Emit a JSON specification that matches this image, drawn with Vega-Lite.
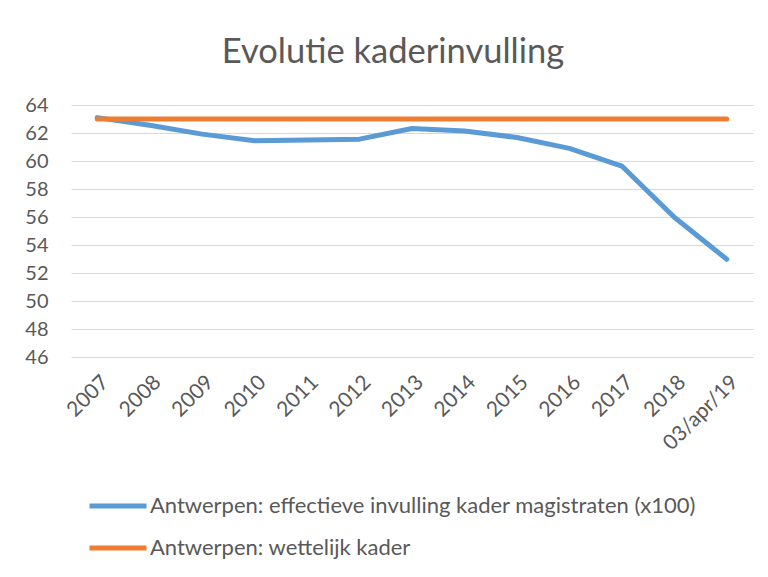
{
  "$schema": "https://vega.github.io/schema/vega-lite/v6.json",
  "autosize": {"type": "none"},
  "width": 682,
  "height": 252,
  "padding": {"left": 71, "top": 105, "right": 15, "bottom": 220},
  "background": "white",
  "title": {
    "text": "Evolutie kaderinvulling",
    "anchor": "middle",
    "frame": "group",
    "dx": -19,
    "offset": 25,
    "font": "Lato",
    "fontSize": 34.5,
    "fontWeight": "normal",
    "color": "#595959"
  },
  "data": {
    "values": [
      {"jaar": "2007", "reeks": "Antwerpen: effectieve invulling kader magistraten (x100)", "waarde": 63.1},
      {"jaar": "2008", "reeks": "Antwerpen: effectieve invulling kader magistraten (x100)", "waarde": 62.55},
      {"jaar": "2009", "reeks": "Antwerpen: effectieve invulling kader magistraten (x100)", "waarde": 61.92},
      {"jaar": "2010", "reeks": "Antwerpen: effectieve invulling kader magistraten (x100)", "waarde": 61.44},
      {"jaar": "2011", "reeks": "Antwerpen: effectieve invulling kader magistraten (x100)", "waarde": 61.5},
      {"jaar": "2012", "reeks": "Antwerpen: effectieve invulling kader magistraten (x100)", "waarde": 61.56},
      {"jaar": "2013", "reeks": "Antwerpen: effectieve invulling kader magistraten (x100)", "waarde": 62.32},
      {"jaar": "2014", "reeks": "Antwerpen: effectieve invulling kader magistraten (x100)", "waarde": 62.15},
      {"jaar": "2015", "reeks": "Antwerpen: effectieve invulling kader magistraten (x100)", "waarde": 61.68},
      {"jaar": "2016", "reeks": "Antwerpen: effectieve invulling kader magistraten (x100)", "waarde": 60.9},
      {"jaar": "2017", "reeks": "Antwerpen: effectieve invulling kader magistraten (x100)", "waarde": 59.64},
      {"jaar": "2018", "reeks": "Antwerpen: effectieve invulling kader magistraten (x100)", "waarde": 55.98},
      {"jaar": "03/apr/19", "reeks": "Antwerpen: effectieve invulling kader magistraten (x100)", "waarde": 52.98},
      {"jaar": "2007", "reeks": "Antwerpen: wettelijk kader", "waarde": 63},
      {"jaar": "2008", "reeks": "Antwerpen: wettelijk kader", "waarde": 63},
      {"jaar": "2009", "reeks": "Antwerpen: wettelijk kader", "waarde": 63},
      {"jaar": "2010", "reeks": "Antwerpen: wettelijk kader", "waarde": 63},
      {"jaar": "2011", "reeks": "Antwerpen: wettelijk kader", "waarde": 63},
      {"jaar": "2012", "reeks": "Antwerpen: wettelijk kader", "waarde": 63},
      {"jaar": "2013", "reeks": "Antwerpen: wettelijk kader", "waarde": 63},
      {"jaar": "2014", "reeks": "Antwerpen: wettelijk kader", "waarde": 63},
      {"jaar": "2015", "reeks": "Antwerpen: wettelijk kader", "waarde": 63},
      {"jaar": "2016", "reeks": "Antwerpen: wettelijk kader", "waarde": 63},
      {"jaar": "2017", "reeks": "Antwerpen: wettelijk kader", "waarde": 63},
      {"jaar": "2018", "reeks": "Antwerpen: wettelijk kader", "waarde": 63},
      {"jaar": "03/apr/19", "reeks": "Antwerpen: wettelijk kader", "waarde": 63}
    ]
  },
  "encoding": {
    "x": {
      "field": "jaar",
      "type": "ordinal",
      "sort": null,
      "scale": {"type": "point", "padding": 0.5},
      "axis": {
        "title": null,
        "labelAngle": -45,
        "labelFont": "Lato",
        "labelFontSize": 21,
        "labelColor": "#595959",
        "labelPadding": 14,
        "domain": false,
        "ticks": false,
        "grid": false
      }
    },
    "y": {
      "field": "waarde",
      "type": "quantitative",
      "scale": {"domain": [46, 64], "zero": false, "nice": false},
      "axis": {
        "title": null,
        "values": [46, 48, 50, 52, 54, 56, 58, 60, 62, 64],
        "labelFont": "Lato",
        "labelFontSize": 20,
        "labelColor": "#595959",
        "labelPadding": 23,
        "domain": false,
        "ticks": false,
        "grid": true,
        "gridColor": "#D9D9D9",
        "gridWidth": 1.2
      }
    },
    "color": {
      "field": "reeks",
      "type": "nominal",
      "scale": {
        "domain": ["Antwerpen: effectieve invulling kader magistraten (x100)", "Antwerpen: wettelijk kader"],
        "range": ["#5B9BD5", "#ED7D31"]
      },
      "legend": {
        "title": null,
        "orient": "none",
        "legendX": 16,
        "legendY": 370,
        "direction": "vertical",
        "symbolType": "stroke",
        "symbolSize": 3249,
        "symbolStrokeWidth": 5,
        "labelOffset": 1,
        "labelFont": "Lato",
        "labelFontSize": 22,
        "labelColor": "#595959",
        "rowPadding": -12,
        "labelLimit": 700
      }
    }
  },
  "layer": [
    {
      "transform": [{"filter": "datum.reeks === 'Antwerpen: effectieve invulling kader magistraten (x100)'"}],
      "mark": {"type": "line", "strokeWidth": 5, "strokeCap": "round", "strokeJoin": "round"}
    },
    {
      "transform": [{"filter": "datum.reeks === 'Antwerpen: wettelijk kader'"}],
      "mark": {"type": "line", "strokeWidth": 5, "strokeCap": "round", "strokeJoin": "round"}
    }
  ],
  "config": {
    "view": {"stroke": null}
  }
}
